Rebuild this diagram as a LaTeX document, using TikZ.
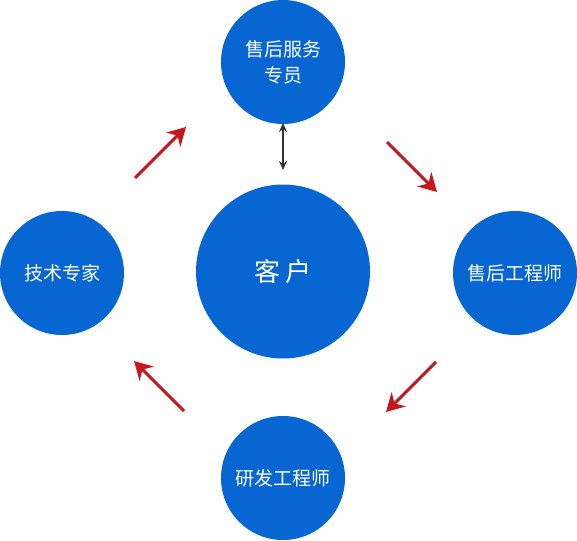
\documentclass[tikz,border=0pt]{standalone}
\usepackage{fontspec}
\setmainfont{Noto Sans CJK SC}
\usetikzlibrary{arrows.meta}
\definecolor{cblue}{HTML}{0766D1}
\definecolor{cred}{HTML}{C8161D}
\definecolor{cdark}{HTML}{333333}
\tikzset{
  bub/.style={circle, fill=cblue, draw=none, minimum size=124pt, inner sep=0pt, text=white, font=\fontsize{19}{26}\selectfont, align=center},
  bigbub/.style={circle, fill=cblue, draw=none, minimum size=174pt, inner sep=0pt, text=white, font=\fontsize{26}{30}\selectfont},
  flow/.style={draw=cred, line width=3pt, -{Stealth[length=18pt, width=20pt, inset=6pt]}},
  both/.style={draw=cdark, line width=1.6pt, {Stealth[length=9pt, width=8pt]}-{Stealth[length=9pt, width=8pt]}}
}
\begin{document}
\begin{tikzpicture}[x=1pt, y=-1pt]
\useasboundingbox (0,0) rectangle (577,540);
\node[bigbub] (c) at (283,271.5) {客 户};
\node[bub] (t) at (283,62) {售后服务\\专员};
\node[bub] (r) at (515,273) {售后工程师};
\node[bub] (b) at (283,478) {研发工程师};
\node[bub] (l) at (62,273) {技术专家};
\coordinate (a1s) at (135,178); \coordinate (a1e) at (186,127);
\coordinate (a2s) at (387,142); \coordinate (a2e) at (437,192);
\coordinate (a3s) at (436,362); \coordinate (a3e) at (386,412);
\coordinate (a4s) at (184,411); \coordinate (a4e) at (134,361);
\draw[flow] (a1s) -- (a1e);
\draw[flow] (a2s) -- (a2e);
\draw[flow] (a3s) -- (a3e);
\draw[flow] (a4s) -- (a4e);
\coordinate (d1) at (283,123);
\coordinate (d2) at (283,170);
\draw[both] (d1) -- (d2);
\end{tikzpicture}
\end{document}
